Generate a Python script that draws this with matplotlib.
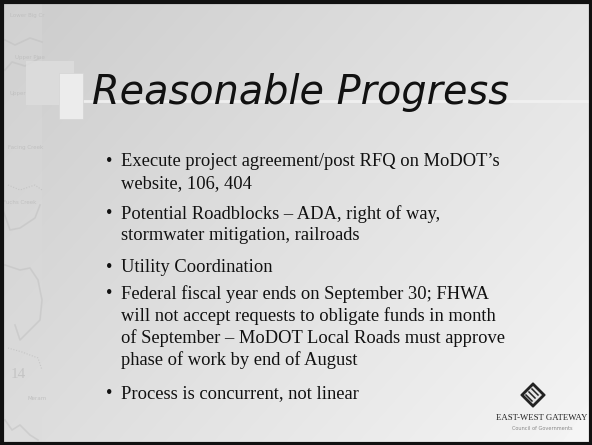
import numpy as np
import matplotlib
matplotlib.use("Agg")
import matplotlib.pyplot as plt
from matplotlib.patches import Rectangle, Polygon

W, H = 592, 445

title = "Reasonable Progress"
bullets = [
    ["Execute project agreement/post RFQ on MoDOT\u2019s", "website, 106, 404"],
    ["Potential Roadblocks \u2013 ADA, right of way,", "stormwater mitigation, railroads"],
    ["Utility Coordination"],
    ["Federal fiscal year ends on September 30; FHWA",
     "will not accept requests to obligate funds in month",
     "of September \u2013 MoDOT Local Roads must approve",
     "phase of work by end of August"],
    ["Process is concurrent, not linear"],
]
bullet_y = [162, 214, 267, 294, 394]
logo_name = "East-West Gateway"
logo_sub = "Council of Governments"

fig = plt.figure(figsize=(W / 100, H / 100), dpi=100)
ax = fig.add_axes([0, 0, 1, 1])
ax.set_xlim(0, W)
ax.set_ylim(H, 0)
ax.axis("off")

# background gradient
yy, xx = np.mgrid[0:H, 0:W]
t = (xx / W * 0.6 + yy / H * 0.4)
g = 0.80 + 0.16 * t
img = np.dstack([g, g, g])
ax.imshow(img, extent=[0, W, H, 0], zorder=0, interpolation="bilinear")
# whitish sweep at bottom right
ax.add_patch(Polygon([[560, H], [W, 400], [W, H]], closed=True, fc="#f6f6f6", ec="none", alpha=0.7, zorder=1))

# left map strip texture
ax.add_patch(Rectangle((0, 0), 42, H, color="#dcdcdc", alpha=0.3, zorder=1, lw=0))
rivers = [
    ([5, 15, 30, 42], [40, 45, 38, 42]),
    ([5, 12, 25, 40], [70, 62, 66, 58]),
    ([3, 10, 20, 35, 40], [210, 230, 228, 218, 205]),
    ([5, 20, 30, 38, 42, 40, 30, 20, 15], [265, 270, 268, 280, 300, 320, 330, 340, 325]),
    ([5, 12, 20, 30, 38], [420, 430, 425, 435, 440]),
]
for rx, ry in rivers:
    ax.plot(rx, ry, color="#bcbcbc", lw=1.2, alpha=0.45, zorder=1)
ax.plot([8, 20, 35, 42], [185, 190, 185, 190], color="#b8b8b8", lw=0.8, alpha=0.6, ls=(0, (1, 1.5)), zorder=1)
ax.plot([8, 22, 38, 42], [348, 352, 358, 370], color="#b8b8b8", lw=0.8, alpha=0.6, ls=(0, (1, 1.5)), zorder=1)
for (lx, ly, s) in [(10, 15, "Lower Big Cr"), (15, 57, "Upper Pine"), (9, 94, "Upper"),
                    (8, 148, "Facing Creek"), (3, 203, "Fuchs Creek"), (28, 398, "Meram")]:
    ax.text(lx, ly, s, fontsize=4, color="#c0c0c0", zorder=1, va="center")
ax.text(11, 374, "14", fontsize=11, color="#c4c4c4", family="Liberation Serif", va="center", zorder=1)

# title decorations
ax.add_patch(Rectangle((26, 61), 48, 44, color="#dedede", alpha=0.8, lw=0, zorder=2))
ax.add_patch(Rectangle((59, 73), 24, 46, color="#ececec", ec="#d4d4d4", lw=0.5, zorder=3))
ax.plot([83, W - 3], [101, 101], color="#f2f2f2", lw=2, alpha=0.9, zorder=2)

ax.text(92, 104, title, fontsize=28.6, style="italic", family="DejaVu Sans",
        color="#111111", va="baseline", ha="left", zorder=4)

# bullets
lh = 22
fs = 13.3
for lines, y0 in zip(bullets, bullet_y):
    ax.text(106, y0, "\u2022", fontsize=fs, family="Liberation Serif", va="center",
            ha="left", color="#111111", zorder=4)
    for i, ln in enumerate(lines):
        ax.text(121, y0 + i * lh, ln, fontsize=fs, family="Liberation Serif",
                va="center", ha="left", color="#111111", zorder=4)

# logo
cx, cy, r = 533, 395, 12
ax.add_patch(Polygon([[cx, cy - r], [cx + r, cy], [cx, cy + r], [cx - r, cy]],
                     closed=True, fc="#222222", ec="#222222", zorder=4))
ax.add_patch(Polygon([[cx, cy - r + 3], [cx + r - 3, cy], [cx, cy + r - 3], [cx - r + 3, cy]],
                     closed=True, fc="#e4e4e4", ec="none", zorder=5))
for k in (-3, 0, 3):
    ax.plot([cx - 4 + k, cx + 2 + k], [cy - 4 - k + 1, cy + 2 - k + 1], color="#222222", lw=1.1, zorder=6)
ax.text(542, 418, "EAST-WEST GATEWAY", fontsize=6.3, family="Liberation Serif",
        ha="center", va="center", color="#222222", zorder=4)
ax.text(542, 428, logo_sub, fontsize=3.6, family="DejaVu Sans",
        ha="center", va="center", color="#888888", zorder=4)

# border
ax.add_patch(Rectangle((1.5, 1.5), W - 3, H - 3, fill=False, ec="#111111", lw=3, zorder=10))

fig.savefig("out.png", dpi=100)
